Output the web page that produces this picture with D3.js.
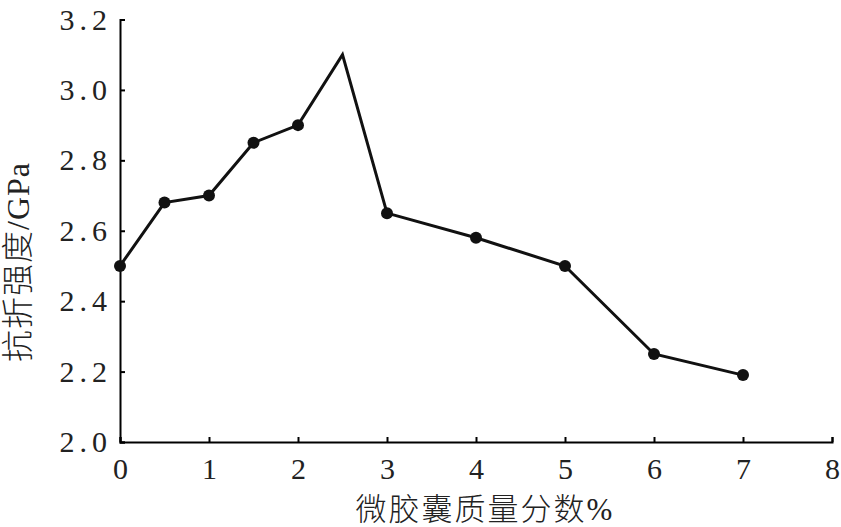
<!DOCTYPE html>
<html><head><meta charset="utf-8">
<script src="https://cdn.jsdelivr.net/npm/d3@7"></script>
<style>body{margin:0;background:#fff}</style>
</head><body>
<svg id="c" width="841" height="527"></svg>
<script>
const xValues = [0, 0.5, 1, 1.5, 2, 2.5, 3, 4, 5, 6, 7];
const yValues = [2.5, 2.68, 2.7, 2.85, 2.9, 3.1, 2.65, 2.58, 2.5, 2.25, 2.19];
const markerShown = [1,1,1,1,1,0,1,1,1,1,1];
const xTicks = [0,1,2,3,4,5,6,7,8];
const yTicks = [2.0,2.2,2.4,2.6,2.8,3.0,3.2];
const xTitle = "微胶囊质量分数%";
const yTitle = "抗折强度/GPa";

const svg = d3.select("#c");
const x = d3.scaleLinear().domain([0,8]).range([120,832]);
const y = d3.scaleLinear().domain([2.0,3.2]).range([442,19.5]);
const serif = "'Liberation Serif','DejaVu Serif',serif";
const mixed = "'Liberation Serif','Noto Sans CJK SC','Noto Sans CJK JP',serif";

const xa = svg.append("g").attr("transform","translate(0,442)")
  .call(d3.axisBottom(x).tickValues(xTicks).tickSize(-5).tickPadding(16).tickFormat(d3.format("d")));
const ya = svg.append("g").attr("transform","translate(120,0)")
  .call(d3.axisLeft(y).tickValues(yTicks).tickSize(-5).tickPadding(8).tickFormat(d3.format(".1f")));
[xa,ya].forEach(a=>{
  a.select(".domain").attr("stroke","#000").attr("stroke-width",2);
  a.selectAll(".tick line").attr("stroke","#000").attr("stroke-width",2);
  a.selectAll("text").attr("font-family",serif).attr("font-size",30).attr("fill","#222");
});
xa.selectAll(".tick text").attr("dy","0.71em");
ya.selectAll(".tick text").attr("letter-spacing","5px");

const line = d3.line().x((d,i)=>x(xValues[i])).y(d=>y(d));
svg.append("path").datum(yValues).attr("d",line)
  .attr("fill","none").attr("stroke","#111").attr("stroke-width",3).attr("stroke-linejoin","miter");
svg.selectAll("circle.m").data(yValues.map((v,i)=>({x:xValues[i],y:v,s:markerShown[i]})).filter(d=>d.s))
  .enter().append("circle").attr("class","m")
  .attr("cx",d=>x(d.x)).attr("cy",d=>y(d.y)).attr("r",6).attr("fill","#111");

svg.append("text").attr("x",485).attr("y",520).attr("text-anchor","middle")
  .attr("font-family",mixed).attr("font-weight",300).attr("font-size",31).attr("letter-spacing","2px").attr("fill","#222").text(xTitle);
svg.append("text").attr("transform","translate(29,262) rotate(-90)").attr("text-anchor","middle")
  .attr("font-family",mixed).attr("font-weight",300).attr("font-size",32).attr("letter-spacing","1px").attr("fill","#222").text(yTitle);
</script>
</body></html>
